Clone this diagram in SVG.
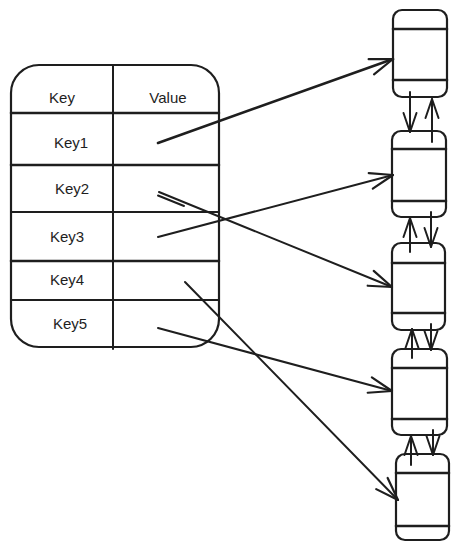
<svg xmlns="http://www.w3.org/2000/svg" width="459" height="551" viewBox="0 0 459 551">
<style>
.ln{fill:none;stroke:#1e1e1e;stroke-width:2;stroke-linecap:round;stroke-linejoin:round}
.thk{stroke-width:2.6}
.box{fill:#ffffff;stroke:#1e1e1e;stroke-width:2.2}
.t{font-family:"Liberation Sans",Arial,sans-serif;font-size:15px;fill:#1e1e1e;text-anchor:middle;dominant-baseline:central}
</style>
<defs>
<marker id="big" markerUnits="userSpaceOnUse" markerWidth="30" markerHeight="20" viewBox="-26 -10 30 20" refX="0" refY="0" orient="auto" overflow="visible">
<path d="M-23,-8 L0,0 L-23,8" fill="none" stroke="#1e1e1e" stroke-width="2.2" stroke-linecap="round" stroke-linejoin="round"/>
</marker>
<marker id="sm" markerUnits="userSpaceOnUse" markerWidth="24" markerHeight="16" viewBox="-22 -8 24 16" refX="0" refY="0" orient="auto" overflow="visible">
<path d="M-19,-6.5 L0,0 L-19,6.5" fill="none" stroke="#1e1e1e" stroke-width="2" stroke-linecap="round" stroke-linejoin="round"/>
</marker>
</defs>
<rect width="459" height="551" fill="#ffffff"/>
<g id="table">
<rect class="box" x="11" y="65" width="208" height="282" rx="28" ry="28"/>
<path class="ln thk" d="M11,113 H219 M11,165 H219 M11,261 H219"/>
<path class="ln" d="M11,212 H219 M11,300 H219"/>
<path class="ln" d="M113,66 V349"/>
<text class="t" x="62" y="97">Key</text>
<text class="t" x="168" y="97">Value</text>
<text class="t" x="71" y="142">Key1</text>
<text class="t" x="72" y="188">Key2</text>
<text class="t" x="67" y="236">Key3</text>
<text class="t" x="67" y="279">Key4</text>
<text class="t" x="70" y="323">Key5</text>
</g>
<g id="node1">
<rect class="box" x="393" y="10" width="54" height="87" rx="9"/>
<path class="ln thk" d="M393,29 H447 M393,80 H447"/>
</g>
<g id="node2">
<rect class="box" x="392" y="131" width="54" height="86" rx="9"/>
<path class="ln thk" d="M392,149 H446 M392,201 H446"/>
</g>
<g id="node3">
<rect class="box" x="392" y="243" width="53" height="87" rx="9"/>
<path class="ln thk" d="M392,263 H445 M392,313 H445"/>
</g>
<g id="node4">
<rect class="box" x="392" y="349" width="55" height="86" rx="9"/>
<path class="ln thk" d="M392,368 H447 M392,419 H447"/>
</g>
<g id="node5">
<rect class="box" x="396" y="454" width="53" height="86" rx="9"/>
<path class="ln thk" d="M396,473 H449 M396,526 H449"/>
</g>
<g id="connectors">
<path class="ln thk" d="M158,143 L393,59" marker-end="url(#big)"/>
<path class="ln" d="M159,192 L392,287" marker-end="url(#big)"/>
<path class="ln" d="M158,195.5 L184,206" stroke-width="1"/>
<path class="ln" d="M158,237 L393,175" marker-end="url(#big)"/>
<path class="ln" d="M185,282 L398,500" stroke-width="1.6" marker-end="url(#big)"/>
<path class="ln" d="M158,328 L392,391" marker-end="url(#big)"/>
<path class="ln" d="M410,92 L410,132" marker-end="url(#sm)"/>
<path class="ln" d="M432,142 L432,99" marker-end="url(#sm)"/>
<path class="ln" d="M431,212 L431,247" marker-end="url(#sm)"/>
<path class="ln" d="M410,252 L410,218" marker-end="url(#sm)"/>
<path class="ln" d="M431,324 L431,350" marker-end="url(#sm)"/>
<path class="ln" d="M412,358 L412,329" marker-end="url(#sm)"/>
<path class="ln" d="M433,430 L433,455" marker-end="url(#sm)"/>
<path class="ln" d="M411,465 L411,436" marker-end="url(#sm)"/>
</g>
</svg>
